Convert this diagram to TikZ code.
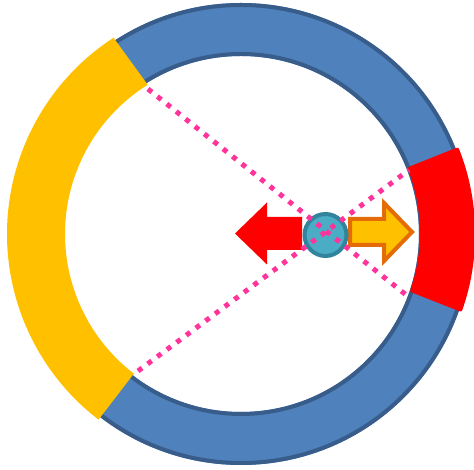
\documentclass[tikz,border=0pt]{standalone}
\usetikzlibrary{calc}
\definecolor{ringblue}{HTML}{4F81BD}
\definecolor{ringedge}{HTML}{385D8A}
\definecolor{segyellow}{HTML}{FFC000}
\definecolor{segred}{HTML}{FF0000}
\definecolor{dotpink}{HTML}{FF3399}
\definecolor{ballfill}{HTML}{4BACC6}
\definecolor{balledge}{HTML}{31849B}
\definecolor{arrowedge}{HTML}{E36C09}
\tikzset{
  dotline/.style={draw=dotpink, line width=5pt, dash pattern=on 5pt off 7pt},
  ball/.style={circle, draw=balledge, fill=ballfill, line width=4pt, minimum size=42pt, inner sep=0pt},
}
\begin{document}
\begin{tikzpicture}[x=1pt,y=1pt]
\useasboundingbox (0,0) rectangle (474,470);
% ring
\coordinate (o) at (241,236);
\fill[ringblue, even odd rule] (o) circle[radius=231] (o) circle[radius=178];
\draw[ringedge, line width=4pt] (o) circle[radius=229] (o) circle[radius=180];
% yellow segment
\fill[segyellow, shift={(o)}] (123:234) arc[start angle=123, end angle=232.5, radius=234]
  -- (232.5:176) arc[start angle=232.5, end angle=122, radius=176] -- cycle;
% red segment
\fill[segred, shift={(o)}, rounded corners=2pt] (-19.5:234) arc[start angle=-19.5, end angle=21.8, radius=234]
  -- (21.8:179) arc[start angle=21.8, end angle=-19.5, radius=176] -- cycle;
% red arrow (left)
\fill[segred] (235,236.5) -- (267,267.5) -- (267,253) -- (302,253) -- (302,220) -- (267,220) -- (267,205.5) -- cycle;
% orange arrow (right)
\draw[arrowedge, fill=segyellow, line width=4pt, line join=miter]
  (412,238) -- (384,267) -- (384,251) -- (350,251) -- (350,225) -- (384,225) -- (384,209) -- cycle;
% ball
\node[ball] (ball) at (325.5,235) {};
% dotted lines
\coordinate (a1) at (148,381);
\coordinate (a2) at (410,172);
\coordinate (b1) at (138,99);
\coordinate (b2) at (409,300);
\draw[dotline] (a1) -- (a2);
\draw[dotline] (b1) -- (b2);
\end{tikzpicture}
\end{document}
